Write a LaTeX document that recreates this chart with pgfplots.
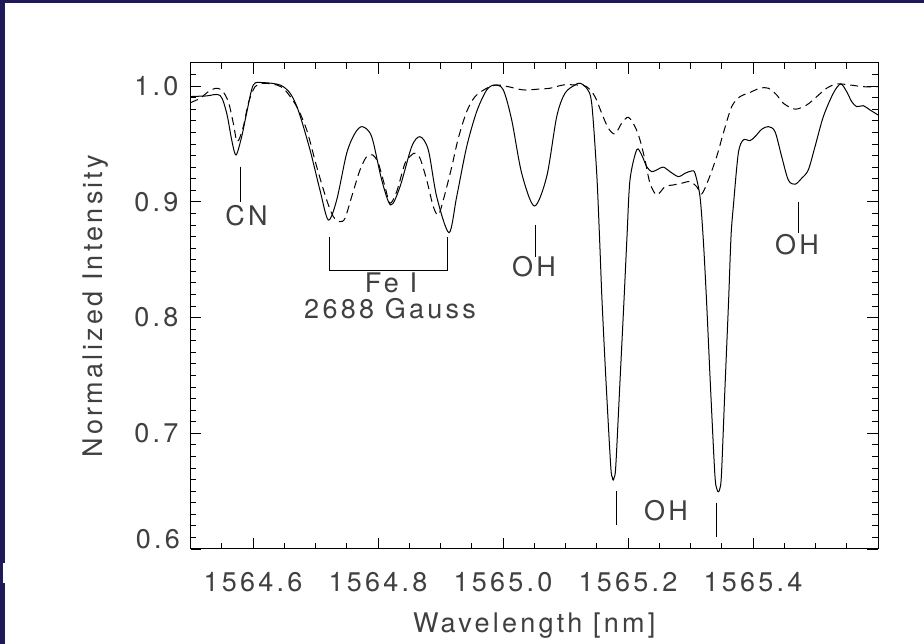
\documentclass[border=0pt]{standalone}
\usepackage{fontspec}
\setmainfont{TeX Gyre Heros}[LetterSpace=12]
\usepackage{pgfplots}
\pgfplotsset{compat=1.18}
\definecolor{navyborder}{RGB}{30,26,90}
\definecolor{txt}{gray}{0.25}
\newcommand\lbl{\fontsize{27}{32}\selectfont}
\pgfplotstableread{
x y
1564.5000 0.9910
1564.5250 0.9915
1564.5472 0.9920
1564.5579 0.9766
1564.5659 0.9535
1564.5728 0.9405
1564.5819 0.9563
1564.5899 0.9770
1564.6005 1.0010
1564.6165 1.0030
1564.6432 1.0010
1564.6592 0.9940
1564.6725 0.9790
1564.6912 0.9450
1564.7072 0.9100
1564.7205 0.8843
1564.7339 0.9016
1564.7499 0.9420
1564.7632 0.9593
1564.7749 0.9650
1564.7899 0.9563
1564.8059 0.9190
1564.8203 0.8973
1564.8352 0.9131
1564.8539 0.9477
1564.8672 0.9563
1564.8805 0.9449
1564.8939 0.9045
1564.9136 0.8734
1564.9259 0.9045
1564.9419 0.9477
1564.9579 0.9780
1564.9739 0.9967
1564.9872 1.0010
1565.0005 0.9967
1565.0139 0.9708
1565.0299 0.9247
1565.0501 0.8964
1565.0699 0.9218
1565.0859 0.9736
1565.0992 0.9939
1565.1152 1.0010
1565.1232 1.0025
1565.1339 0.9982
1565.1419 0.9852
1565.1499 0.9250
1565.1544 0.8700
1565.1584 0.8150
1565.1648 0.7450
1565.1723 0.6720
1565.1749 0.6620
1565.1763 0.6596
1565.1779 0.6620
1565.1805 0.6720
1565.1872 0.7450
1565.1936 0.8150
1565.1984 0.8700
1565.2032 0.9190
1565.2139 0.9449
1565.2219 0.9405
1565.2299 0.9304
1565.2379 0.9261
1565.2459 0.9276
1565.2565 0.9300
1565.2672 0.9261
1565.2805 0.9218
1565.2912 0.9247
1565.3019 0.9267
1565.3072 0.9247
1565.3152 0.9045
1565.3205 0.8670
1565.3256 0.8150
1565.3320 0.7400
1565.3389 0.6650
1565.3421 0.6520
1565.3445 0.6495
1565.3469 0.6520
1565.3496 0.6650
1565.3552 0.7400
1565.3610 0.8150
1565.3648 0.8700
1565.3685 0.8959
1565.3765 0.9420
1565.3845 0.9535
1565.3952 0.9529
1565.4032 0.9563
1565.4139 0.9627
1565.4245 0.9650
1565.4352 0.9607
1565.4459 0.9391
1565.4565 0.9189
1565.4672 0.9152
1565.4779 0.9204
1565.4885 0.9276
1565.4992 0.9477
1565.5125 0.9736
1565.5285 0.9939
1565.5403 1.0019
1565.5499 0.9952
1565.5579 0.9866
1565.5659 0.9823
1565.5765 0.9831
1565.5872 0.9794
1565.6000 0.9751
}\observed
\pgfplotstableread{
x y
1564.5000 0.9857
1564.5152 0.9895
1564.5285 0.9952
1564.5392 0.9980
1564.5499 0.9967
1564.5605 0.9866
1564.5685 0.9680
1564.5749 0.9520
1564.5845 0.9650
1564.5925 0.9852
1564.6032 0.9995
1564.6165 1.0025
1564.6379 1.0010
1564.6512 0.9967
1564.6699 0.9823
1564.6859 0.9622
1564.7019 0.9304
1564.7179 0.9016
1564.7285 0.8872
1564.7392 0.8829
1564.7472 0.8858
1564.7579 0.9045
1564.7712 0.9276
1564.7819 0.9391
1564.7915 0.9405
1564.8005 0.9333
1564.8112 0.9131
1564.8192 0.8988
1564.8299 0.9088
1564.8432 0.9333
1564.8539 0.9405
1564.8592 0.9420
1564.8672 0.9377
1564.8779 0.9189
1564.8885 0.8959
1564.8965 0.8887
1564.9045 0.9016
1564.9179 0.9300
1564.9285 0.9550
1564.9419 0.9780
1564.9552 0.9909
1564.9739 0.9982
1564.9899 1.0010
1565.0085 0.9995
1565.0325 0.9967
1565.0539 0.9973
1565.0752 0.9982
1565.0965 1.0010
1565.1179 1.0010
1565.1339 0.9995
1565.1472 0.9909
1565.1579 0.9766
1565.1685 0.9637
1565.1792 0.9587
1565.1899 0.9680
1565.2005 0.9731
1565.2112 0.9650
1565.2192 0.9535
1565.2272 0.9362
1565.2352 0.9161
1565.2459 0.9060
1565.2592 0.9131
1565.2725 0.9146
1565.2859 0.9161
1565.2992 0.9175
1565.3099 0.9131
1565.3179 0.9068
1565.3285 0.9189
1565.3419 0.9391
1565.3525 0.9593
1565.3659 0.9823
1565.3792 0.9909
1565.3925 0.9939
1565.4112 0.9982
1565.4245 0.9982
1565.4379 0.9924
1565.4485 0.9852
1565.4672 0.9801
1565.4859 0.9837
1565.5019 0.9909
1565.5179 0.9982
1565.5339 1.0019
1565.5552 1.0010
1565.5765 0.9995
1565.6000 0.9995
}\model
\begin{document}
\begin{tikzpicture}
\path[use as bounding box] (0pt,0pt) rectangle (924pt,644pt);
\fill[white] (0pt,0pt) rectangle (924pt,644pt);
\fill[navyborder] (0pt,0pt) rectangle (5pt,644pt);
\fill[navyborder] (0pt,641pt) rectangle (924pt,644pt);
\fill[white] (2.7pt,61pt) rectangle (5pt,81pt);
\begin{axis}[
  at={(190.5pt,95pt)}, anchor=south west,
  scale only axis, width=687.5pt, height=486pt,
  xmin=1564.5, xmax=1565.6, ymin=0.6, ymax=1.02,
  xtick={1564.6,1564.8,1565.0,1565.2,1565.4,1565.6},
  xticklabels={1564.6,1564.8,1565.0,1565.2,1565.4,},
  minor xtick={1564.55,1564.65,1564.7,1564.75,1564.85,1564.9,1564.95,1565.05,1565.1,1565.15,1565.25,1565.3,1565.35,1565.45,1565.5,1565.55},
  ytick={0.6,0.7,0.8,0.9,1.0},
  yticklabels={,0.7,0.8,0.9,1.0},
  minor ytick={0.61,0.62,0.63,0.64,0.65,0.66,0.67,0.68,0.69,0.71,0.72,0.73,0.74,0.75,0.76,0.77,0.78,0.79,0.81,0.82,0.83,0.84,0.85,0.86,0.87,0.88,0.89,0.91,0.92,0.93,0.94,0.95,0.96,0.97,0.98,0.99,1.01},
  tick align=inside,
  major tick length=11pt, minor tick length=6pt,
  every tick/.style={black, line width=0.8pt},
  axis line style={line width=1pt},
  tick label style={font=\lbl, text=txt, inner sep=0pt},
  xticklabel style={anchor=north, yshift=-23pt},
  yticklabel style={anchor=east, xshift=-12pt},
  xlabel={Wavelength [nm]},
  ylabel={Normalized Intensity},
  label style={font=\lbl, text=txt, inner sep=0pt},
  xlabel style={at={(axis description cs:0.5,-0.1708)}, anchor=base},
  ylabel style={at={(axis description cs:-0.128,0.5)}, anchor=base},
]
\addplot[black, line width=1pt, smooth, tension=0.5] table[x=x,y=y] {\observed};
\addplot[black, line width=1pt, smooth, tension=0.5, dash pattern=on 8pt off 5pt] table[x=x,y=y] {\model};
% annotations
\begin{scope}[line width=0.9pt, black]
\draw (axis cs:1564.5803,0.9304) -- (axis cs:1564.5803,0.9002);
\draw (axis cs:1564.7216,0.8699) -- (axis cs:1564.7216,0.8407) -- (axis cs:1564.9104,0.8407) -- (axis cs:1564.9104,0.8699);
\draw (axis cs:1565.0512,0.8800) -- (axis cs:1565.0512,0.8526);
\draw (axis cs:1565.4725,0.9002) -- (axis cs:1565.4725,0.8729);
\draw (axis cs:1565.1808,0.6501) -- (axis cs:1565.1808,0.6207);
\draw (axis cs:1565.3413,0.6400) -- (axis cs:1565.3413,0.6106);
\end{scope}
\begin{scope}[every node/.style={font=\lbl, text=txt, inner sep=0pt, anchor=center}]
\node at (axis cs:1564.5896,0.8878) {CN};
\node at (axis cs:1564.8208,0.8302) {Fe I};
\node at (axis cs:1564.8192,0.8075) {2688 Gauss};
\node at (axis cs:1565.0496,0.8437) {OH};
\node at (axis cs:1565.4704,0.8627) {OH};
\node at (axis cs:1565.2608,0.6328) {OH};
\end{scope}
\end{axis}
\node[font=\lbl, text=txt, inner sep=0pt, anchor=east] at (180pt,105pt) {0.6};
\end{tikzpicture}
\end{document}
